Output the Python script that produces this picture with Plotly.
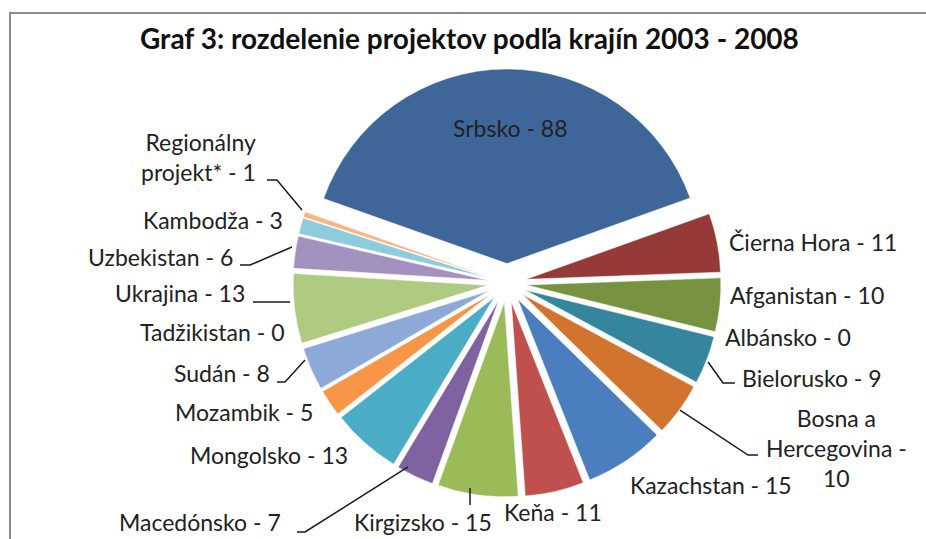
import plotly.graph_objects as go

W, H = 926, 539

# data (clockwise from the top, as in the source chart)
countries = ["Srbsko", "Čierna Hora", "Afganistan", "Albánsko", "Bielorusko",
             "Bosna a Hercegovina", "Kazachstan", "Keňa", "Kirgizsko", "Macedónsko",
             "Mongolsko", "Mozambik", "Sudán", "Tadžikistan", "Ukrajina",
             "Uzbekistan", "Kambodža", "Regionálny projekt*"]
projects = [88, 11, 10, 0, 9, 10, 15, 11, 15, 7, 13, 5, 8, 0, 13, 6, 3, 1]

colors = ["#3E6699", "#953A38", "#78933F", "#5F4B7E", "#35869C", "#D2742D",
          "#4A7EBE", "#C0504D", "#9BBB59", "#7F62A0", "#4BACC6", "#F79646",
          "#8DA9D8", "#D99694", "#AFCB82", "#A391C0", "#8DCCDC", "#F9B47F"]

# label text for each slice (line breaks as in the source)
label_text = ["Srbsko - 88", "Čierna Hora - 11", "Afganistan - 10", "Albánsko - 0",
              "Bielorusko - 9", "Bosna a<br>Hercegovina -<br>10", "Kazachstan - 15",
              "Keňa - 11", "Kirgizsko - 15", "Macedónsko - 7", "Mongolsko - 13",
              "Mozambik - 5", "Sudán - 8", "Tadžikistan - 0", "Ukrajina - 13",
              "Uzbekistan - 6", "Kambodža - 3", "Regionálny<br>projekt* - 1"]

# label placement in pixels: (x, y, xanchor)
label_pos = [(510, 128, "center"), (727, 242, "left"), (728, 295, "left"),
             (723, 337, "left"), (740, 378, "left"), (836, 448, "center"),
             (628, 485, "left"), (502, 512, "left"), (423, 522, "center"),
             (283, 522, "right"), (350, 455, "right"), (315, 412, "right"),
             (272, 373, "right"), (287, 332, "right"), (247, 293, "right"),
             (235, 257, "right"), (285, 220, "right"), (258, 157, "right")]

# leader lines (pixels)
leaders = [
    [(267, 180), (277, 180), (302, 210)],
    [(240, 265), (250, 265), (292, 247)],
    [(253, 302), (290, 302)],
    [(277, 382), (285, 382), (305, 360)],
    [(297, 532), (305, 532), (408, 467)],
    [(470, 505), (470, 488)],
    [(735, 383), (723, 383), (708, 362)],
    [(758, 455), (748, 455), (680, 410)],
]


def px(x):
    return x / W


def py(y):
    return 1 - y / H


cx, cy, half = 507, 283, 214

fig = go.Figure(go.Pie(
    labels=countries,
    values=projects,
    sort=False,
    direction="clockwise",
    rotation=-70.5,
    pull=[0.1] * len(projects),
    marker=dict(colors=colors, line=dict(color="white", width=0.5)),
    textinfo="none",
    showlegend=False,
    domain=dict(x=[px(cx - half), px(cx + half)], y=[py(cy + half), py(cy - half)]),
))

annotations = []
for txt, (x, y, anchor) in zip(label_text, label_pos):
    annotations.append(dict(
        text=txt, x=px(x), y=py(y), xref="paper", yref="paper",
        xanchor=anchor, yanchor="middle", showarrow=False,
        align="right" if anchor == "right" else "center",
        font=dict(family="Lato", size=23, color="#222222"),
    ))

annotations.append(dict(
    text="<b>Graf 3: rozdelenie projektov podľa krajín 2003 - 2008</b>",
    x=px(469), y=py(38), xref="paper", yref="paper",
    xanchor="center", yanchor="middle", showarrow=False,
    font=dict(family="Lato", size=28, color="#111111"),
))

shapes = [dict(type="rect", xref="paper", yref="paper",
               x0=px(10), y0=py(H + 20), x1=px(W + 20), y1=py(13),
               line=dict(color="#8a8a8a", width=2), layer="below")]
for pts in leaders:
    path = "M " + " L ".join(f"{px(x):.4f},{py(y):.4f}" for x, y in pts)
    shapes.append(dict(type="path", path=path, xref="paper", yref="paper",
                       line=dict(color="#1a1a1a", width=1.5)))

fig.update_layout(
    width=W, height=H,
    margin=dict(l=0, r=0, t=0, b=0),
    paper_bgcolor="white",
    plot_bgcolor="white",
    annotations=annotations,
    shapes=shapes,
)

fig.write_html("out.html", config={"displayModeBar": False},
               post_script="document.body.style.margin='0';")
